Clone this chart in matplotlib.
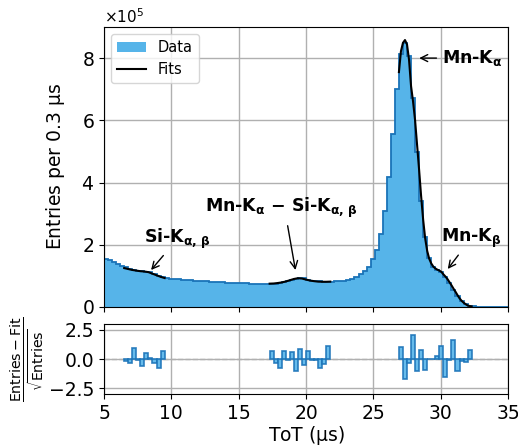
import numpy as np
import matplotlib
matplotlib.use("Agg")
import matplotlib.pyplot as plt

# ===============================
# Data (counts in units of 1e5, bin width 0.3 us)
# ===============================
bin_lo, bin_w, n_bins = 5.0, 0.3, 100

counts_1e5 = [
    1.55, 1.50, 1.45, 1.39, 1.33, 1.27, 1.23, 1.20, 1.17, 1.15,
    1.13, 1.11, 1.06, 1.01, 0.97, 0.93, 0.91, 0.90, 0.89, 0.88,
    0.87, 0.86, 0.85, 0.84, 0.83, 0.82, 0.81, 0.80, 0.80, 0.79,
    0.78, 0.78, 0.77, 0.77, 0.76, 0.76, 0.75, 0.75, 0.75, 0.74,
    0.74, 0.75, 0.75, 0.77, 0.79, 0.82, 0.86, 0.90, 0.92, 0.92,
    0.88, 0.85, 0.83, 0.82, 0.81, 0.81, 0.81, 0.82, 0.83, 0.85,
    0.87, 0.91, 0.96, 1.05, 1.17, 1.30, 1.54, 1.83, 2.34, 3.08,
    4.18, 5.55, 7.02, 8.12, 8.50, 8.07, 6.73, 4.97, 3.42, 2.25,
    1.56, 1.29, 1.20, 1.13, 0.97, 0.76, 0.54, 0.36, 0.20, 0.10,
    0.04, 0.02, 0.01, 0.005, 0.003, 0.002, 0.001, 0.001, 0.001, 0.001,
]

# fit curves
fit_si_x = [6.5, 6.8, 7.1, 7.4, 7.7, 8.0, 8.3, 8.6, 8.9, 9.2, 9.5]
fit_si_y = [1.25, 1.22, 1.19, 1.17, 1.15, 1.14, 1.12, 1.07, 1.02, 0.97, 0.93]

fit_esc_x = [17.3, 17.6, 17.9, 18.2, 18.5, 18.8, 19.1, 19.4, 19.7, 20.0,
             20.3, 20.6, 20.9, 21.2, 21.5, 21.8]
fit_esc_y = [0.75, 0.755, 0.77, 0.79, 0.82, 0.86, 0.90, 0.925, 0.915, 0.88,
             0.85, 0.83, 0.815, 0.81, 0.81, 0.815]

fit_mn_x = [26.9, 27.05, 27.2, 27.35, 27.5, 27.65, 27.8, 27.95, 28.1, 28.25,
            28.4, 28.55, 28.7, 28.85, 29.0, 29.15, 29.3, 29.45, 29.6, 29.75,
            29.9, 30.05, 30.2, 30.35, 30.5, 30.65, 30.8, 30.95, 31.1, 31.25,
            31.4, 31.55, 31.7, 31.85, 32.0, 32.15, 32.3]
fit_mn_y = [7.55, 8.22, 8.49, 8.58, 8.44, 7.95, 7.10, 6.60, 6.00, 5.20,
            4.40, 3.55, 2.80, 2.20, 1.80, 1.55, 1.40, 1.30, 1.24, 1.20,
            1.17, 1.13, 1.05, 0.98, 0.90, 0.80, 0.70, 0.59, 0.49, 0.38,
            0.28, 0.20, 0.14, 0.09, 0.05, 0.03, 0.02]

# pulls: (Entries - Fit)/sqrt(Entries), one per bin in each fit range
pull_si_start = 6.5
pull_si = [-0.15, -0.3, 0.93, -0.05, -0.57, 0.5, 0.12, -0.3, -0.74, 0.72]
pull_esc_start = 17.3
pull_esc = [0.65, -0.3, -0.8, 0.65, -0.05, 0.56, -1.05, 0.82, -0.5, 0.7,
            -0.05, -0.1, -0.8, -0.45, 1.15]
pull_mn_start = 26.9
pull_mn = [1.05, -1.7, -0.37, 2.1, -1.0, 0.8, -0.9, -0.03, -0.03, 0.22,
           1.1, -1.5, -0.1, 1.65, -1.0, -0.2, -0.28, 0.8]

# ===============================
# Plot
# ===============================
FILL = "#56B4E9"
EDGE = "#1a73b8"

plt.rcParams["font.size"] = 13.5

fig = plt.figure(figsize=(5.18, 4.46), dpi=100)
ax = fig.add_axes([0.2008, 0.3117, 0.7799, 0.6278])
axr = fig.add_axes([0.2008, 0.1166, 0.7799, 0.1569], sharex=ax)

edges = bin_lo + bin_w * np.arange(n_bins + 1)
counts = np.array(counts_1e5) * 1e5

ax.stairs(counts, edges, fill=True, color=FILL, label="Data", zorder=2)
ax.stairs(counts, edges, color=EDGE, lw=1.3, zorder=2)
for fx, fy in [(fit_si_x, fit_si_y), (fit_esc_x, fit_esc_y), (fit_mn_x, fit_mn_y)]:
    ax.plot(fx, np.array(fy) * 1e5, color="black", lw=1.5, zorder=3)
ax.plot([], [], color="black", lw=1.5, label="Fits")

ax.set_xlim(5, 35)
ax.set_ylim(0, 9e5)
ax.set_yticks([0, 2e5, 4e5, 6e5, 8e5])
ax.ticklabel_format(axis="y", style="sci", scilimits=(0, 0), useMathText=True)
ax.yaxis.get_offset_text().set_fontsize(11)
ax.grid(True, color="#b0b0b0", lw=1, zorder=0)
ax.set_axisbelow(True)
ax.set_ylabel(r"Entries per 0.3 $\mathrm{\mu}$s")
ax.yaxis.set_label_coords(-0.092, 0.5)
ax.tick_params(labelbottom=False)
ax.legend(loc="upper left", fontsize=10.5, handlelength=2.0)

arrow = dict(arrowstyle="->", color="black", lw=1.0)
txt_kw = dict(fontsize=12.5, fontweight="bold", va="center")
ax.annotate(r"Mn-K$_{\mathbf{\alpha}}$", xy=(28.2, 8.0e5), xytext=(30.1, 8.0e5),
            arrowprops=arrow, **txt_kw)
ax.annotate(r"Mn-K$_{\mathbf{\beta}}$", xy=(30.4, 1.15e5), xytext=(30.0, 2.2e5),
            arrowprops=arrow, **txt_kw)
ax.annotate(r"Si-K$_{\mathbf{\alpha,\,\beta}}$", xy=(8.36, 1.12e5), xytext=(8.0, 2.2e5),
            arrowprops=arrow, **txt_kw)
ax.text(12.5, 3.2e5,
        r"Mn-K$_{\mathbf{\alpha}}$ $\mathbf{-}$ Si-K$_{\mathbf{\alpha,\,\beta}}$",
        **txt_kw)
ax.annotate("", xy=(19.25, 1.1e5), xytext=(18.6, 2.7e5), arrowprops=arrow)

# residual panel
for start, vals in [(pull_si_start, pull_si), (pull_esc_start, pull_esc),
                    (pull_mn_start, pull_mn)]:
    xs = start + bin_w * np.arange(len(vals))
    axr.bar(xs, vals, width=bin_w, align="edge", color=FILL, alpha=0.9,
            edgecolor=EDGE, lw=1.2, zorder=3)
axr.axhline(0, color="#b0b0b0", ls="--", lw=1, zorder=2)
axr.set_ylim(-3, 3)
axr.set_yticks([-2.5, 0, 2.5])
axr.set_xticks([5, 10, 15, 20, 25, 30, 35])
axr.grid(True, color="#b0b0b0", lw=1, zorder=0)
axr.set_axisbelow(True)
axr.set_xlabel(r"ToT ($\mathrm{\mu}$s)", labelpad=1)
axr.set_ylabel(r"$\frac{\mathrm{Entries}-\mathrm{Fit}}{\sqrt{\mathrm{Entries}}}$",
               fontsize=14.5)
axr.yaxis.set_label_coords(-0.14, 0.5)

fig.savefig("out.png", dpi=100)
